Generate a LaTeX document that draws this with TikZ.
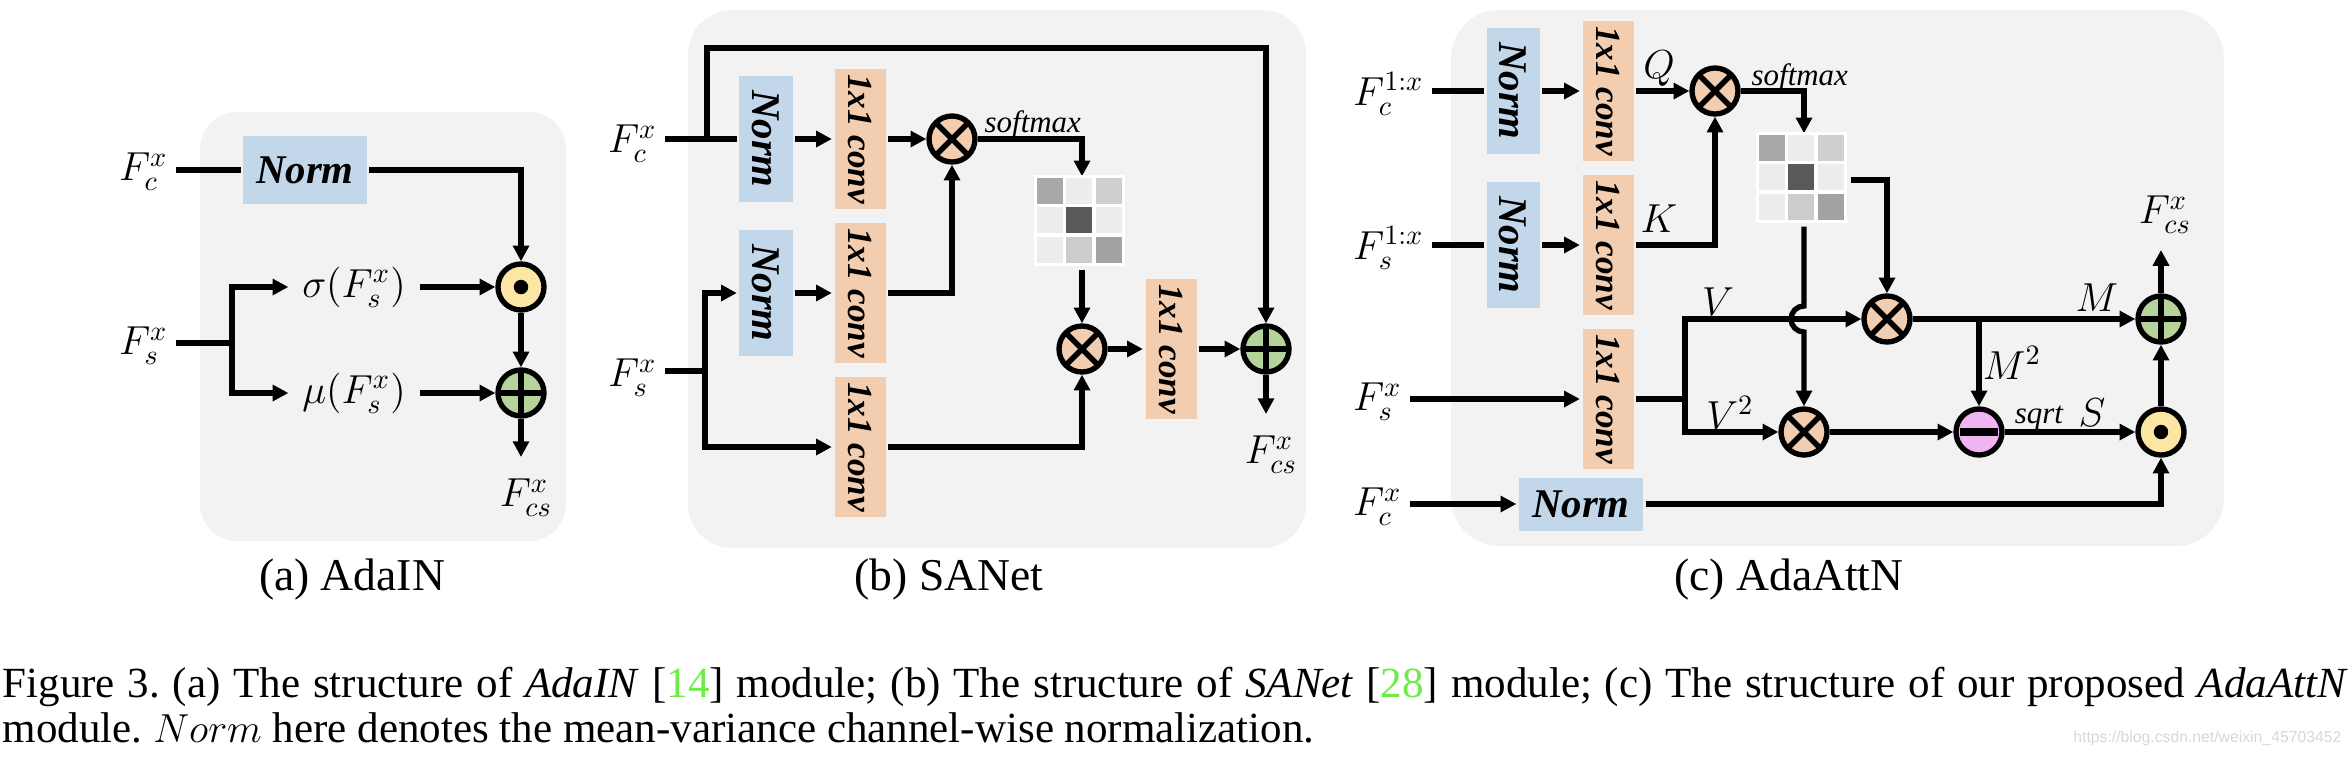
\documentclass[tikz,border=0pt]{standalone}
\usepackage{fontspec}
\setmainfont{Liberation Serif}
\newfontfamily\markfont{Liberation Sans}
\usetikzlibrary{arrows.meta,calc}
\colorlet{mygray}{black!5}
\definecolor{myblue}{RGB}{195,215,235}
\definecolor{mypeach}{RGB}{242,205,176}
\definecolor{mygreen}{RGB}{181,211,155}
\definecolor{myyellow}{RGB}{252,230,163}
\definecolor{mypink}{RGB}{240,180,242}
\definecolor{mycite}{RGB}{110,235,70}
\definecolor{mymark}{RGB}{215,215,215}
\frenchspacing

\begin{document}
\begin{tikzpicture}[x=0.0125cm,y=-0.0125cm,line width=1.9pt,>={Triangle[length=5.6pt,width=5.6pt]}]
\tikzset{NormStyle/.style={fill=myblue, inner sep=0, font=\fontsize{14.5}{17}\selectfont\bfseries\itshape},
  NormVStyle/.style={NormStyle, rotate=-90, minimum width=1.5625cm, minimum height=0.6625cm},
  ConvStyle/.style={fill=mypeach, inner sep=0, rotate=-90, minimum width=1.7375cm, minimum height=0.6375cm, font=\fontsize{12.5}{15}\selectfont\bfseries\itshape},
  OpStyle/.style={circle, draw, minimum size=0.575cm, inner sep=0},
  TimesStyle/.style={OpStyle, fill=mypeach, path picture={\draw (path picture bounding box.south west) -- (path picture bounding box.north east) (path picture bounding box.north west) -- (path picture bounding box.south east);}},
  PlusStyle/.style={OpStyle, fill=mygreen, path picture={\draw (path picture bounding box.north) -- (path picture bounding box.south) (path picture bounding box.west) -- (path picture bounding box.east);}},
  DotStyle/.style={OpStyle, fill=myyellow, path picture={\fill[black] (path picture bounding box.center) circle[radius=0.09cm];}},
  MinusStyle/.style={OpStyle, fill=mypink, path picture={\draw[black, line width=2.6pt] (path picture bounding box.center) ++(-0.24cm,0) -- ++(0.48cm,0);}},
  MapStyle/.style={minimum size=1.1cm, inner sep=0},
  LabStyle/.style={inner sep=2pt, font=\fontsize{14.4}{17}\selectfont},
  SoftStyle/.style={inner sep=0, font=\fontsize{11}{13}\selectfont\itshape},
  CapStyle/.style={inner sep=0, font=\fontsize{16.2}{19}\selectfont}}
\useasboundingbox (0,0) rectangle (2348,758);
\fill[mygray, rounded corners=0.46cm] (200,112) rectangle (566,541);
\fill[mygray, rounded corners=0.55cm] (688,10) rectangle (1306,548);
\fill[mygray, rounded corners=0.6cm] (1451,10) rectangle (2224,546);

\node[LabStyle, anchor=east] (fca) at (176,172) {$F_c^x$};
\node[NormStyle, minimum width=1.5375cm, minimum height=0.85cm] (norma) at (305,170) {Norm};
\node[DotStyle] (dota) at (521,287) {};
\node[PlusStyle] (plusa) at (521,393) {};
\node[LabStyle, anchor=east] (fsa) at (176,346) {$F_s^x$};
\node[LabStyle, inner sep=4pt] (sigma) at (354,287) {$\sigma(F_s^x)$};
\node[LabStyle, inner sep=4pt] (mu) at (354,393) {$\mu(F_s^x)$};
\node[LabStyle] (fcsa) at (526,498) {$F_{cs}^x$};
\coordinate (ja) at (232,343);
\coordinate (outa) at (521,457);
\draw (fca.east |- norma) -- (norma);
\draw[->] (norma) -| (dota);
\draw (fsa.east |- ja) -- (ja);
\draw[->] (ja) |- (sigma);
\draw[->] (ja) |- (mu);
\draw[->] (sigma) -- (dota);
\draw[->] (mu) -- (plusa);
\draw[->] (dota) -- (plusa);
\draw[->] (plusa) -- (outa);

\node[LabStyle, anchor=east] (fcb) at (665,144) {$F_c^x$};
\node[NormVStyle] (normb1) at (766,139) {Norm};
\node[ConvStyle] (convb1) at (860,139) {1x1 conv};
\node[TimesStyle] (mulb1) at (952,139) {};
\node[SoftStyle, anchor=base west] (softb) at (982,132) {softmax};
\node[MapStyle] (mapb) at (1082,223) {};
\node[NormVStyle] (normb2) at (766,293) {Norm};
\node[ConvStyle] (convb2) at (860,293) {1x1 conv};
\node[ConvStyle] (convb3) at (860,447) {1x1 conv};
\node[TimesStyle] (mulb2) at (1082,349) {};
\node[ConvStyle] (convb4) at (1171,349) {1x1 conv};
\node[PlusStyle] (plusb) at (1266,349) {};
\node[LabStyle, anchor=east] (fsb) at (665,378) {$F_s^x$};
\node[LabStyle] (fcsb) at (1271,455) {$F_{cs}^x$};
\coordinate (jb1) at (707,139);
\coordinate (topb) at (1266,48);
\coordinate (jb2) at (705,371);
\coordinate (outb) at (1266,414);
\draw (fcb.east |- normb1) -- (normb1);
\draw[->] (normb1) -- (convb1);
\draw[->] (convb1) -- (mulb1);
\draw[->] (jb1) |- (topb) -- (plusb);
\draw[->] (mulb1) -| (mapb);
\draw[->] (convb2) -| (mulb1);
\draw (fsb.east |- jb2) -- (jb2);
\draw[->] (jb2) |- (normb2);
\draw[->] (jb2) |- (convb3);
\draw[->] (normb2) -- (convb2);
\draw[->] (convb3) -| (mulb2);
\draw[->] (mapb) -- (mulb2);
\draw[->] (mulb2) -- (convb4);
\draw[->] (convb4) -- (plusb);
\draw[->] (plusb) -- (outb);

\node[LabStyle, anchor=east] (fcc1) at (1432,94) {$F_c^{1:x}$};
\node[NormVStyle] (normc1) at (1513,91) {Norm};
\node[ConvStyle] (convc1) at (1608,91) {1x1 conv};
\node[TimesStyle] (mulc1) at (1715,91) {};
\node[LabStyle] (q) at (1659,69) {$Q$};
\node[SoftStyle, anchor=base west] (softc) at (1749,85) {softmax};
\node[MapStyle] (mapc) at (1804,180) {};
\node[LabStyle, anchor=east] (fsc1) at (1432,248) {$F_s^{1:x}$};
\node[NormVStyle] (normc2) at (1513,245) {Norm};
\node[ConvStyle] (convc2) at (1608,245) {1x1 conv};
\node[LabStyle] (k) at (1659,219) {$K$};
\node[LabStyle, anchor=east] (fsc) at (1410,402) {$F_s^x$};
\node[ConvStyle] (convc3) at (1608,399) {1x1 conv};
\node[LabStyle] (v) at (1718,302) {$V$};
\node[LabStyle] (v2) at (1730,413) {$V^2$};
\node[TimesStyle] (mulc3) at (1887,319) {};
\node[TimesStyle] (mulc2) at (1804,432) {};
\node[MinusStyle] (minusc) at (1979,432) {};
\node[PlusStyle] (plusc) at (2161,319) {};
\node[DotStyle] (dotc) at (2161,432) {};
\node[LabStyle] (m) at (2097,298) {$M$};
\node[LabStyle] (m2) at (2012,363) {$M^2$};
\node[SoftStyle] (sqrt) at (2039,418) {sqrt};
\node[LabStyle] (s) at (2092,413) {$S$};
\node[LabStyle] (fcsc) at (2165,215) {$F_{cs}^x$};
\node[LabStyle, anchor=east] (fcc) at (1410,507) {$F_c^x$};
\node[NormStyle, minimum width=1.55cm, minimum height=0.6625cm] (normc3) at (1581,504) {Norm};
\coordinate (jc) at (1685,399);
\coordinate (hop) at (1804,319);
\coordinate (jm) at (1979,319);
\coordinate (outc) at (2161,250);
\draw (fcc1.east |- normc1) -- (normc1);
\draw[->] (normc1) -- (convc1);
\draw[->] (convc1) -- (mulc1);
\draw[->] (mulc1) -| (mapc);
\draw (fsc1.east |- normc2) -- (normc2);
\draw[->] (normc2) -- (convc2);
\draw[->] (convc2) -| (mulc1);
\draw[->] (fsc.east |- convc3) -- (convc3);
\draw (convc3) -- (jc);
\draw[->] (jc) |- (mulc3);
\draw[->] (jc) |- (mulc2);
\draw[->] (mapc) -- ($(hop)+(0,-13)$) arc[start angle=270, end angle=90, radius=13] -- (mulc2);
\draw[->] (mapc) -| (mulc3);
\draw[->] (mulc3) -- (plusc);
\draw[->] (jm) -- (minusc);
\draw[->] (mulc2) -- (minusc);
\draw[->] (minusc) -- (dotc);
\draw[->] (dotc) -- (plusc);
\draw[->] (plusc) -- (outc);
\draw[->] (fcc.east |- normc3) -- (normc3);
\draw[->] (normc3) -| (dotc);

\foreach \m in {mapb,mapc}
  \foreach \i/\j/\g in {0/0/34, 1/0/7, 2/0/19, 0/1/7, 1/1/65, 2/1/7, 0/2/7, 1/2/20, 2/2/36}
    \filldraw[fill=black!\g, draw=white, line width=1.2pt] ($(\m.north west)+(\i*29.33,\j*29.33)$) rectangle ++(29.33,29.33);

\node[CapStyle, anchor=base] (capa) at (352,590) {(a) AdaIN};
\node[CapStyle, anchor=base] (capb) at (949,590) {(b) SANet};
\node[CapStyle, anchor=base] (capc) at (1789,590) {(c) AdaAttN};
\node[inner sep=0, anchor=base west, font=\fontsize{15.3}{18}\selectfont] (fig1) at (0,697) {\makebox[29.31cm][s]{Figure 3. (a) The structure of \textit{AdaIN} [\textcolor{mycite}{14}] module; (b) The structure of \textit{SANet} [\textcolor{mycite}{28}] module; (c) The structure of our proposed \textit{AdaAttN}}};
\node[inner sep=0, anchor=base west, font=\fontsize{15.3}{18}\selectfont] (fig2) at (0,742) {module. $Norm$ here denotes the mean-variance channel-wise normalization.};
\node[inner sep=0, anchor=base east, text=mymark, font=\markfont\fontsize{5.6}{7}\selectfont] (mark) at (2344,742) {https://blog.csdn.net/weixin\_45703452};
\end{tikzpicture}
\end{document}
